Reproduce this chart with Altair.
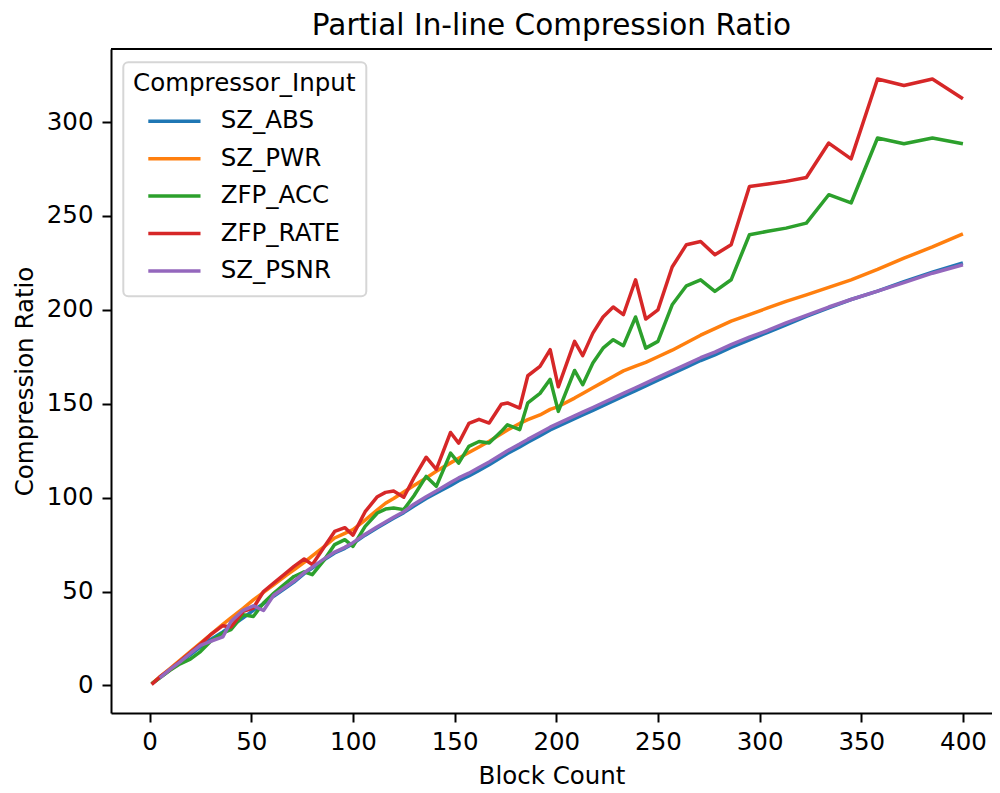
import altair as alt
import pandas as pd

block_count = [1, 5, 10, 15, 20, 25, 30, 36, 40, 46, 51, 56, 61, 67, 71, 76, 80, 86, 91, 96,
               100, 106, 112, 116, 120, 125, 130, 136, 141, 148, 152, 157, 162, 167, 173, 176, 182, 186, 192, 197,
               201, 209, 213, 218, 223, 228, 233, 239, 244, 250, 257, 264, 271, 278, 286, 295, 304, 313, 323, 334,
               345, 358, 371, 385, 400]

sz_abs = [0.8, 4.2, 8.3, 12.3, 16.3, 20.5, 24.5, 28.5, 31.5, 36, 40, 43.5, 47.5, 52, 55, 59.5, 62.5, 67, 70.5, 73,
          75.5, 80, 84, 86.5, 89, 92, 95.5, 99.5, 102.5, 106.5, 109, 111.5, 114.5, 117.5, 121.5, 123.5, 127, 129.5, 133, 136,
          138, 142, 144, 146.5, 149, 151.5, 154, 157, 159.5, 162.5, 166, 169.5, 173, 176, 180, 184, 188, 192, 196.5, 201,
          205.5, 210, 215, 220, 225]

sz_pwr = [0.8, 4.6, 9, 13.5, 18, 22.5, 27, 32.5, 36, 41, 45.5, 49.5, 53.5, 58.5, 61.5, 65.5, 69, 74, 78.5, 81,
          83, 88, 93.5, 97, 99.5, 103, 106.5, 110.5, 114, 118.5, 121, 124, 127, 130, 134, 136, 139.5, 141.5, 144, 147,
          148.5, 153, 155.5, 158.5, 161.5, 164.5, 167.5, 170, 172, 175, 178.5, 182.5, 186.5, 190, 194, 197.5, 201, 204.5, 208, 212,
          216, 221.5, 227.5, 233.5, 240.5]

zfp_acc = [0.8, 4, 8, 11.5, 14, 18, 23.5, 28, 29.7, 37.6, 36.7, 43.9, 49, 54.5, 58, 60.5, 59, 67, 75, 77.6,
           74, 84.7, 91.8, 93.9, 94.5, 93.6, 101, 111.3, 106, 123.7, 118.4, 127.3, 129.9, 129.1, 135.3, 138.8, 136.2, 150.5, 155.5, 163,
           145.9, 167.7, 160.1, 171.7, 179.6, 184.1, 180.9, 196.2, 179.6, 183.2, 202.7, 212.8, 216, 209.8, 216, 240, 241.8, 243.5, 246.2, 261.3,
           256.9, 291.5, 288.4, 291.5, 288.4]

zfp_rate = [0.5, 4.5, 8.5, 13, 17.5, 22, 27, 31.8, 31.1, 39.4, 41.2, 50, 54.5, 59.8, 63.4, 67.3, 64.3, 74, 82, 84,
            80, 92.5, 100.5, 102.8, 103.5, 100.2, 110.5, 121.5, 115, 134.7, 129, 139.5, 141.7, 139.7, 149.7, 150.4, 147.7, 164.9, 169.9, 178.8,
            159, 183.2, 175.6, 187.6, 196.2, 201.5, 197.4, 216, 195.1, 200, 222.8, 234.7, 236.4, 229.3, 234.7, 265.7, 267, 268.4, 270.5, 288.8,
            280.4, 322.9, 319.5, 322.9, 312.4]

sz_psnr = [None, 4, 8.5, 12.5, 17, 21.3, 23.5, 25.8, 34, 40, 42.4, 39.9, 48, 52.5, 55.5, 60, 63, 67.5, 71, 73.5,
           76, 80.5, 84.5, 87, 89.5, 92.5, 96.5, 100.5, 103.5, 108, 110.5, 113, 116, 119, 123, 125, 128.5, 131, 134.5, 137.5,
           139.5, 143.5, 145.5, 148, 150.5, 153, 155.5, 158.5, 161, 164, 167.5, 171, 174.5, 177.5, 181.5, 185.5, 189, 193, 197, 201.5,
           205.5, 210, 214.5, 219.5, 224]

series_names = ["SZ_ABS", "SZ_PWR", "ZFP_ACC", "ZFP_RATE", "SZ_PSNR"]
series_values = [sz_abs, sz_pwr, zfp_acc, zfp_rate, sz_psnr]
colors = ["#1f77b4", "#ff7f0e", "#2ca02c", "#d62728", "#9467bd"]
x_ticks = [0, 50, 100, 150, 200, 250, 300, 350, 400]
y_ticks = [0, 50, 100, 150, 200, 250, 300]

rows = []
for name, vals in zip(series_names, series_values):
    for b, v in zip(block_count, vals):
        if v is not None:
            rows.append({"Block Count": b, "Compression Ratio": v, "Compressor_Input": name})
df = pd.DataFrame(rows)

FONT = "DejaVu Sans"
PLOT_W = 881
PLOT_H = 664

lines = alt.Chart(df).mark_line(strokeWidth=3.5, strokeJoin="round").encode(
    x=alt.X("Block Count:Q",
            scale=alt.Scale(domain=[-19, 414.3], nice=False, zero=False),
            axis=alt.Axis(values=x_ticks, title="Block Count", labelPadding=8, titlePadding=11)),
    y=alt.Y("Compression Ratio:Q",
            scale=alt.Scale(domain=[-14.7, 338.9], nice=False, zero=False),
            axis=alt.Axis(values=y_ticks, title="Compression Ratio", labelPadding=9, titlePadding=9)),
    color=alt.Color("Compressor_Input:N",
                    sort=series_names,
                    scale=alt.Scale(domain=series_names, range=colors),
                    legend=alt.Legend(orient="none", legendX=12.3, legendY=13.3,
                                      title="Compressor_Input", titleLimit=600,
                                      symbolType="stroke",
                                      symbolSize=2852, symbolStrokeWidth=3.5,
                                      clipHeight=30, rowPadding=7.4,
                                      symbolOffset=-3, labelOffset=18.4,
                                      padding=10, titlePadding=9.5,
                                      titleAnchor="middle", labelBaseline="middle")),
)

# top frame line of the axes box (matplotlib spine)
top_spine = alt.Chart(pd.DataFrame({"spine": ["top"]})).mark_rule(
    color="black", strokeWidth=2
).encode(x=alt.value(0), x2=alt.value(PLOT_W), y=alt.value(0))

chart = alt.layer(lines, top_spine).properties(
    width=PLOT_W, height=PLOT_H,
    title=alt.Title("Partial In-line Compression Ratio", fontSize=29.5, fontWeight="normal",
                    font=FONT, color="black", offset=7),
    autosize=alt.AutoSizeParams(type="none"),
    padding={"left": 103, "top": 41, "right": 0, "bottom": 80},
).configure_view(
    stroke=None
).configure_axis(
    labelFont=FONT, titleFont=FONT, labelFontSize=24.5, titleFontSize=24.5,
    titleFontWeight="normal", labelColor="black", titleColor="black",
    tickColor="black", domainColor="black", tickWidth=2, domainWidth=2, tickSize=9,
    grid=False, labelFlush=False, labelOverlap=False
).configure_legend(
    labelFont=FONT, titleFont=FONT, labelFontSize=24.5, titleFontSize=24.5,
    titleFontWeight="normal", labelColor="black", titleColor="black",
    strokeColor="#d6d6d6", strokeWidth=2, fillColor="white", cornerRadius=5
)

chart.save("out.html", embed_options={"renderer": "svg", "actions": False})
